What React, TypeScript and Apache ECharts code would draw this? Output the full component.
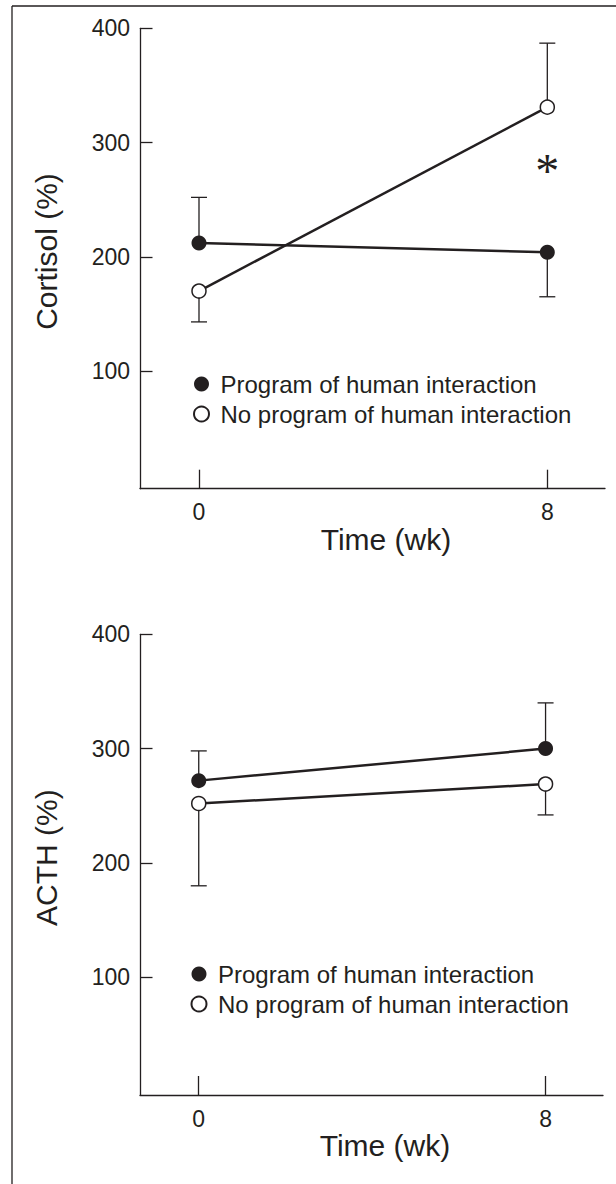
import React, { useEffect, useRef } from "react";
import * as echarts from "echarts";

// ---- data ----
const weeks = [0, 8];
const xTickValues = [0, 8];
const yTickValues = [100, 200, 300, 400];

const seriesNames = ["Program of human interaction", "No program of human interaction"];

// Cortisol panel
const cortisolProgram = [212, 204];
const cortisolProgramErrEnd = [252, 165];
const cortisolNoProgram = [170, 331];
const cortisolNoProgramErrEnd = [143, 387];
const cortisolSignificance = [8, 280];

// ACTH panel
const acthProgram = [272, 300];
const acthProgramErrEnd = [298, 340];
const acthNoProgram = [252, 269];
const acthNoProgramErrEnd = [180, 242];

const panelTitles = ["Cortisol (%)", "ACTH (%)"];
const xTitle = "Time (wk)";

const INK = "#231f20";
const FONT = '"Liberation Sans", Arial, Helvetica, sans-serif';

function pairs(xs: number[], ys: number[]) {
  return xs.map((x, i) => [x, ys[i]]);
}
function triples(xs: number[], ys: number[], es: number[]) {
  return xs.map((x, i) => [x, ys[i], es[i]]);
}

function errorRender(params: any, api: any) {
  const x = api.value(0);
  const v = api.value(1);
  const e = api.value(2);
  const p0 = api.coord([x, v]);
  const p1 = api.coord([x, e]);
  const hw = 8;
  const st = { stroke: INK, lineWidth: 1.3 };
  return {
    type: "group",
    children: [
      { type: "line", shape: { x1: p0[0], y1: p0[1], x2: p1[0], y2: p1[1] }, style: st },
      { type: "line", shape: { x1: p1[0] - hw, y1: p1[1], x2: p1[0] + hw, y2: p1[1] }, style: st },
    ],
  };
}

function starRender(params: any, api: any) {
  const p = api.coord([api.value(0), api.value(1)]);
  return {
    type: "text",
    x: p[0],
    y: p[1] + 5,
    style: {
      text: "*",
      fill: INK,
      font: '48px "Liberation Serif", "Times New Roman", serif',
      align: "center",
      verticalAlign: "middle",
    },
  };
}

export default function App() {
  const ref = useRef<HTMLDivElement>(null);

  useEffect(() => {
    if (!ref.current) return;
    const chart = echarts.init(ref.current, undefined, { renderer: "svg" });

    const grids = [
      { left: 140, top: 28.3, width: 465, height: 460.4 },
      { left: 140, top: 634.3, width: 463, height: 460.7 },
    ];

    const axisLineStyle = { color: INK, width: 1.3 };

    const xAxes = grids.map((_, i) => ({
      type: "value",
      gridIndex: i,
      min: -1.355,
      max: 9.325,
      axisLine: { show: true, onZero: false, lineStyle: axisLineStyle },
      axisTick: { show: true, inside: true, length: 19, customValues: xTickValues, lineStyle: axisLineStyle },
      axisLabel: { show: true, customValues: xTickValues, margin: 12, color: INK, fontSize: 23, fontFamily: FONT },
      splitLine: { show: false },
      name: xTitle,
      nameLocation: "middle",
      nameGap: 28,
      nameTextStyle: { fontSize: 30, color: INK, fontFamily: FONT, padding: [0, 0, 0, 27] },
    }));

    const yAxes = grids.map((_, i) => ({
      type: "value",
      gridIndex: i,
      min: -3,
      max: 400,
      axisLine: { show: true, onZero: false, lineStyle: axisLineStyle },
      axisTick: { show: true, inside: true, length: 12.5, customValues: yTickValues, lineStyle: axisLineStyle },
      axisLabel: { show: true, customValues: yTickValues, margin: 10, color: INK, fontSize: 23, fontFamily: FONT },
      splitLine: { show: false },
      name: panelTitles[i],
      nameLocation: "middle",
      nameGap: 79,
      nameRotate: 90,
      nameTextStyle: { fontSize: 30, color: INK, fontFamily: FONT, padding: [0, 0, 0, 14] },
    }));

    const panels = [
      {
        prog: cortisolProgram,
        progErr: cortisolProgramErrEnd,
        noProg: cortisolNoProgram,
        noProgErr: cortisolNoProgramErrEnd,
      },
      {
        prog: acthProgram,
        progErr: acthProgramErrEnd,
        noProg: acthNoProgram,
        noProgErr: acthNoProgramErrEnd,
      },
    ];

    const series: any[] = [];
    panels.forEach((p, i) => {
      const axes = { xAxisIndex: i, yAxisIndex: i };
      series.push({
        type: "custom",
        name: "err-prog-" + i,
        ...axes,
        renderItem: errorRender,
        encode: { x: 0, y: [1, 2] },
        data: triples(weeks, p.prog, p.progErr),
        z: 1,
        silent: true,
      });
      series.push({
        type: "custom",
        name: "err-noprog-" + i,
        ...axes,
        renderItem: errorRender,
        encode: { x: 0, y: [1, 2] },
        data: triples(weeks, p.noProg, p.noProgErr),
        z: 1,
        silent: true,
      });
      series.push({
        type: "line",
        name: "line-prog-" + i,
        ...axes,
        data: pairs(weeks, p.prog),
        symbol: "none",
        lineStyle: { color: INK, width: 2.5 },
        z: 2,
        silent: true,
      });
      series.push({
        type: "line",
        name: "line-noprog-" + i,
        ...axes,
        data: pairs(weeks, p.noProg),
        symbol: "none",
        lineStyle: { color: INK, width: 2.5 },
        z: 2,
        silent: true,
      });
      series.push({
        type: "scatter",
        name: seriesNames[0],
        ...axes,
        data: pairs(weeks, p.prog),
        symbol: "circle",
        symbolSize: 15,
        itemStyle: { color: INK, opacity: 1 },
        z: 3,
      });
      series.push({
        type: "scatter",
        name: seriesNames[1],
        ...axes,
        data: pairs(weeks, p.noProg),
        symbol: "circle",
        symbolSize: 14,
        itemStyle: { color: "#ffffff", borderColor: INK, borderWidth: 1.5, opacity: 1 },
        z: 3,
      });
    });

    series.push({
      type: "custom",
      name: "significance",
      xAxisIndex: 0,
      yAxisIndex: 0,
      renderItem: starRender,
      data: [cortisolSignificance],
      z: 4,
      silent: true,
    });

    const legendBase = {
      orient: "vertical",
      icon: "circle",
      itemWidth: 28,
      itemHeight: 15,
      itemGap: 6,
      selectedMode: false,
      data: seriesNames,
      itemStyle: { opacity: 1 },
      textStyle: { fontSize: 24, color: INK, fontFamily: FONT },
    };

    chart.setOption({
      animation: false,
      backgroundColor: "#ffffff",
      grid: grids,
      xAxis: xAxes,
      yAxis: yAxes,
      legend: [
        { ...legendBase, left: 188, top: 367 },
        { ...legendBase, left: 185.5, top: 957 },
      ],
      graphic: [
        { type: "line", shape: { x1: 12, y1: 6, x2: 616, y2: 6 }, style: { stroke: INK, lineWidth: 1.3 } },
        { type: "line", shape: { x1: 12, y1: 6, x2: 12, y2: 1184 }, style: { stroke: INK, lineWidth: 1.3 } },
      ],
      series,
    });

    return () => chart.dispose();
  }, []);

  return (
    <div
      ref={ref}
      style={{ position: "absolute", left: 0, top: 0, width: 616, height: 1184, background: "#fff" }}
    />
  );
}
